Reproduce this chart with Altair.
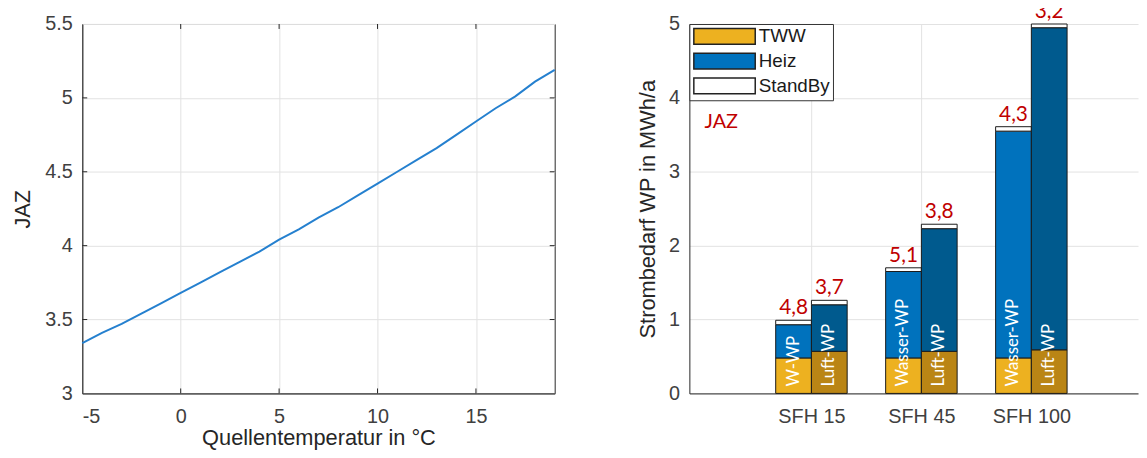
import json
import altair as alt
import pandas as pd

# ---------------- left chart data ----------------
temp = list(range(-5, 20))
jaz = [3.34, 3.41, 3.47, 3.54, 3.61, 3.68, 3.75, 3.82, 3.89, 3.96, 4.04, 4.11,
       4.19, 4.26, 4.34, 4.42, 4.50, 4.58, 4.66, 4.75, 4.84, 4.93, 5.01, 5.11, 5.19]
x_ticks_left = [-5, 0, 5, 10, 15]
y_ticks_left = [3, 3.5, 4, 4.5, 5, 5.5]
x_inner_ticks = [0, 5, 10, 15]
y_inner_ticks = [3.5, 4, 4.5, 5]

# ---------------- right chart data ----------------
groups = ["SFH 15", "SFH 45", "SFH 100"]
inner_labels_wasser = ["W-WP", "Wasser-WP", "Wasser-WP"]
inner_labels_luft = ["Luft-WP", "Luft-WP", "Luft-WP"]
tww_wasser = [0.48, 0.48, 0.48]
heiz_wasser = [0.45, 1.17, 3.07]
standby_wasser = [0.06, 0.05, 0.06]
tww_luft = [0.57, 0.57, 0.59]
heiz_luft = [0.63, 1.66, 4.36]
standby_luft = [0.06, 0.06, 0.05]
jaz_wasser = ["4,8", "5,1", "4,3"]
jaz_luft = ["3,7", "3,8", "3,2"]
legend_items = ["TWW", "Heiz", "StandBy"]
color_domain = ["TWW", "Heiz", "StandBy", "TWW Luft", "Heiz Luft"]
color_range = ["#EDB120", "#0072BD", "#FFFFFF", "#BA8515", "#005A8E"]

BW = 0.325  # bar width in category units

bar_rows, label_rows = [], []
for i, g in enumerate(groups):
    gx = i + 1
    for kind, x0, x1, tww, heiz, sb, inner, jz in [
        ("W", gx - BW, gx, tww_wasser[i], heiz_wasser[i], standby_wasser[i], inner_labels_wasser[i], jaz_wasser[i]),
        ("L", gx, gx + BW, tww_luft[i], heiz_luft[i], standby_luft[i], inner_labels_luft[i], jaz_luft[i]),
    ]:
        suffix = "" if kind == "W" else " Luft"
        cum = 0.0
        for comp, val in [("TWW" + suffix, tww), ("Heiz" + suffix, heiz), ("StandBy", sb)]:
            bar_rows.append({"x0": x0, "x1": x1, "y0": cum, "y1": cum + val, "comp": comp})
            cum += val
        label_rows.append({"xc": (x0 + x1) / 2, "base": 0.0, "top": cum, "inner": inner, "jaz": jz})

bar_df = pd.DataFrame(bar_rows)
label_df = pd.DataFrame(label_rows)

FONT = "Liberation Sans"
axis_style = dict(labelFont=FONT, labelFontSize=20, labelColor="#404040",
                  titleFont=FONT, titleFontSize=22, titleColor="#262626",
                  titleFontWeight="normal", domainColor="#262626", domainWidth=1,
                  gridColor="#e2e2e2", gridWidth=1, ticks=False, tickSize=0)

# ---------------- left chart ----------------
xs_l = alt.Scale(domain=[-5, 19], nice=False, zero=False)
ys_l = alt.Scale(domain=[3, 5.5], nice=False, zero=False)
xaxis_l = alt.Axis(values=x_ticks_left, title="Quellentemperatur in °C",
                   labelExpr="datum.value < 0 ? '-' + abs(datum.value) : '' + datum.value",
                   labelPadding=13, titlePadding=2, **axis_style)
yaxis_l = alt.Axis(values=y_ticks_left, format=".1~f", title="JAZ",
                   labelPadding=10, titlePadding=10, **axis_style)
WL, HL = 477, 373

line = alt.Chart(pd.DataFrame({"t": temp, "jaz": jaz})).mark_line(
    color="#2580CF", strokeWidth=2).encode(
    x=alt.X("t:Q", scale=xs_l, axis=xaxis_l),
    y=alt.Y("jaz:Q", scale=ys_l, axis=yaxis_l))

ydf = pd.DataFrame({"jaz": y_inner_ticks})
xdf = pd.DataFrame({"t": x_inner_ticks})
tick_col = "#262626"
tl = alt.Chart(ydf).mark_rule(color=tick_col).encode(
    y=alt.Y("jaz:Q", scale=ys_l, axis=yaxis_l), x=alt.value(0), x2=alt.value(5))
tr = alt.Chart(ydf).mark_rule(color=tick_col).encode(
    y=alt.Y("jaz:Q", scale=ys_l, axis=yaxis_l), x=alt.value(WL - 5), x2=alt.value(WL))
tb = alt.Chart(xdf).mark_rule(color=tick_col).encode(
    x=alt.X("t:Q", scale=xs_l, axis=xaxis_l), y=alt.value(HL - 5), y2=alt.value(HL))
tt = alt.Chart(xdf).mark_rule(color=tick_col).encode(
    x=alt.X("t:Q", scale=xs_l, axis=xaxis_l), y=alt.value(0), y2=alt.value(5))

left = alt.layer(line, tl, tr, tb, tt).properties(
    width=WL, height=HL, view=alt.ViewBackground(stroke="#262626", strokeWidth=1))

# ---------------- right chart ----------------
WR, HR = 453, 373
xs_r = alt.Scale(domain=[-0.11, 3.97], nice=False, zero=False)
ys_r = alt.Scale(domain=[0, 5], nice=False, zero=False)
label_expr = json.dumps([""] + groups) + "[datum.value]"
xaxis_r = alt.Axis(values=[1, 2, 3], labelExpr=label_expr, title=None,
                   labelPadding=13, **axis_style)
yaxis_r = alt.Axis(values=[0, 1, 2, 3, 4, 5], format="d",
                   title="Strombedarf WP in MWh/a", labelPadding=10,
                   titlePadding=9, **axis_style)


def XR(f):
    return alt.X(f, scale=xs_r, axis=xaxis_r)


def YR(f):
    return alt.Y(f, scale=ys_r, axis=yaxis_r)


# wide legend swatch: unit height 2 (=16px), drawn from x=-8px to +54px
swatch = "M-1,-1H6.75V1H-1Z"

bars = alt.Chart(bar_df).mark_bar(stroke="#1a1a1a", strokeWidth=1).encode(
    x=XR("x0:Q"), x2="x1:Q", y=YR("y0:Q"), y2="y1:Q",
    color=alt.Color("comp:N",
                    scale=alt.Scale(domain=color_domain, range=color_range),
                    legend=alt.Legend(values=legend_items, title=None,
                                      orient="top-left", offset=0, padding=3,
                                      strokeColor="#333333", fillColor="white",
                                      labelFont=FONT, labelFontSize=19,
                                      labelColor="#1a1a1a", labelOffset=48,
                                      symbolType=swatch,
                                      symbolSize=256, symbolStrokeColor="#222222",
                                      symbolStrokeWidth=1.5, symbolOpacity=1,
                                      rowPadding=2)))

inner = alt.Chart(label_df).mark_text(
    angle=270, align="left", baseline="middle", color="white",
    font="Lato", fontSize=17, dx=7).encode(
    x=XR("xc:Q"), y=YR("base:Q"), text="inner:N")

toplab = alt.Chart(label_df).mark_text(
    baseline="bottom", align="center", color="#C00000",
    font="Lato", fontSize=21, dy=-2).encode(
    x=XR("xc:Q"), y=YR("top:Q"), text="jaz:N")

jaz_note = alt.Chart(pd.DataFrame({"t": ["JAZ"]})).mark_text(
    align="center", baseline="middle", color="#C00000", font="Lato",
    fontSize=20).encode(x=alt.datum(0.18), y=alt.datum(3.67), text="t:N")

right = alt.layer(bars, inner, toplab, jaz_note).properties(
    width=WR, height=HR, view=alt.ViewBackground(stroke="transparent"))

chart = alt.hconcat(left, right, spacing=77).resolve_legend(
    color="independent").resolve_scale(color="independent").properties(
    padding={"left": 3, "top": -10, "right": 0, "bottom": 0},
    background="white")

chart.save("out.html", embed_options={"renderer": "svg", "actions": False})
